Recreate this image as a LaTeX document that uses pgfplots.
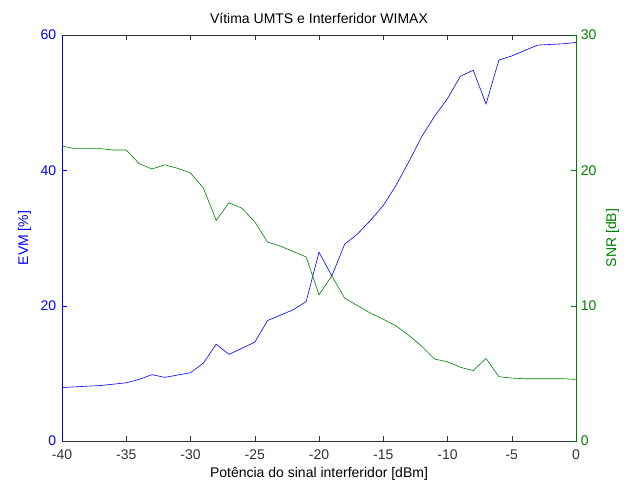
\documentclass[border=0pt]{standalone}
\usepackage{pgfplots}
\pgfplotsset{compat=1.18}
\usepackage{fontspec}
\setmainfont{Liberation Sans}
\definecolor{mblue}{RGB}{0,0,255}
\definecolor{mgreen}{RGB}{0,128,0}

\pgfplotstableread{
x evm snr
-40 7.9 21.8
-39 8.0 21.6
-38 8.1 21.6
-37 8.2 21.6
-36 8.4 21.5
-35 8.6 21.5
-34 9.1 20.5
-33 9.8 20.1
-32 9.4 20.4
-31 9.75 20.15
-30 10.1 19.8
-29 11.5 18.7
-28 14.3 16.3
-27 12.8 17.6
-26 13.7 17.2
-25 14.6 16.2
-24 17.8 14.7
-23 18.6 14.4
-22 19.4 14.0
-21 20.6 13.6
-20 27.9 10.8
-19 24.4 12.2
-18 29.1 10.55
-17 30.6 10.0
-16 32.6 9.45
-15 34.8 9.0
-14 37.8 8.5
-13 41.3 7.8
-12 45.0 7.0
-11 48.0 6.05
-10 50.6 5.85
-9 53.9 5.45
-8 54.8 5.2
-7 49.8 6.1
-6 56.3 4.75
-5 56.9 4.65
-4 57.7 4.6
-3 58.5 4.6
-2 58.6 4.6
-1 58.7 4.6
0 58.9 4.55
}\datatable

\begin{document}
\fontsize{14}{16}\selectfont
\begin{tikzpicture}
\pgfplotsset{
  every axis/.append style={
    scale only axis, width=514pt, height=406pt,
    xmin=-40, xmax=0,
    tick align=inside, major tick length=5pt,
    /pgf/number format/assume math mode=true,
    font=\fontsize{14}{16}\selectfont,
  },
}
\begin{axis}[
  ymin=0, ymax=60,
  xtick={-40,-35,...,0},
  ytick={0,20,40,60},
  xtick pos=both, ytick pos=left,
  axis line style={black!80},
  x tick label style={black!80, yshift=-4pt},
  y tick label style={mblue, xshift=-1pt},
  ytick style={mblue},
  xtick style={black!80},
  title={Vítima UMTS e Interferidor WIMAX},
  xlabel={Potência do sinal interferidor [dBm]},
  xlabel style={yshift=2pt},
  ylabel={EVM [\%]},
  ylabel style={mblue},
  after end axis/.code={\draw[mblue] (rel axis cs:0,0) -- (rel axis cs:0,1);},
]
\addplot[mblue, line width=0.6pt] table[x=x, y=evm] {\datatable};
\end{axis}
\begin{axis}[
  ymin=0, ymax=30,
  ytick={0,10,20,30},
  axis x line=none,
  axis y line*=right,
  axis line style={mgreen},
  y tick label style={mgreen},
  ytick style={mgreen},
  ylabel={SNR [dB]},
  ylabel style={mgreen},
]
\addplot[mgreen, line width=0.6pt] table[x=x, y=snr] {\datatable};
\end{axis}
\pgfresetboundingbox
\path (-62pt,-45pt) rectangle (564pt,441pt);
\end{tikzpicture}
\end{document}
